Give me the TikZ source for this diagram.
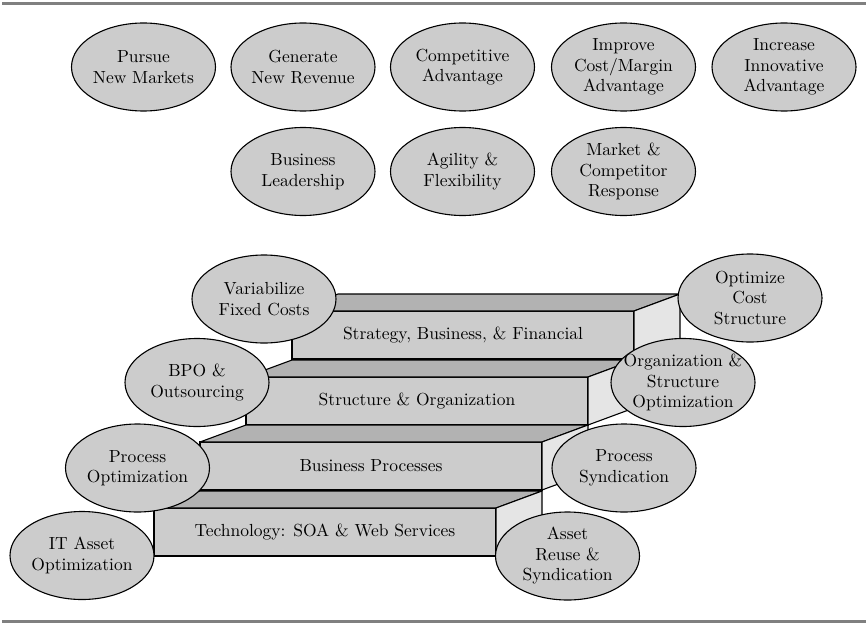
\documentclass[tikz,border=0pt]{standalone}
\usepackage{fontspec}
\setmainfont{lmroman10-regular.otf}
\usetikzlibrary{shapes.geometric,calc}
\newcommand{\stairstep}[3]{%
  \node[front] (#1) at (#2) {#3};
  \draw[topface] (#1.north west) -- (#1.north east) -- ++(46,-17) -- ($(#1.north west)+(46,-17)$) -- cycle;
  \draw[sideface] (#1.north east) -- ++(46,-17) -- ++(0,48) -- (#1.south east) -- cycle;
}
\begin{document}
\begin{tikzpicture}[x=1pt,y=-1pt,
  bub/.style={ellipse,draw=black,line width=1.1pt,fill=black!20,minimum width=144pt,minimum height=88pt,inner sep=0pt},
  txt/.style={align=center,font=\fontsize{17.5}{20.5}\selectfont,inner sep=0pt},
  front/.style={draw=black,line width=1.1pt,fill=black!20,minimum width=342pt,minimum height=48pt,inner sep=0pt,outer sep=0pt,font=\fontsize{17.5}{20.5}\selectfont},
  topface/.style={draw=black,line width=1.1pt,fill=black!30,line join=round},
  sideface/.style={draw=black,line width=1.1pt,fill=black!10,line join=round},
  rulebar/.style={draw=black!50,line width=3.3pt}]
\useasboundingbox (0,0) rectangle (866,623);
% rules
\coordinate (tl) at (2,3.3); \coordinate (tr) at (866,3.3);
\coordinate (bl) at (2,621.6); \coordinate (br) at (866,621.6);
\draw[rulebar] (tl) -- (tr);
\draw[rulebar] (bl) -- (br);
% top goals
\node[bub] (pnm) at (143.5,67) {}; \node[txt] at (pnm) {Pursue\\New Markets};
\node[bub] (gnr) at (303,67) {}; \node[txt] at (gnr) {Generate\\New Revenue};
\node[bub] (cad) at (462.5,67) {}; \node[txt] at (cad) {Competitive\\Advantage};
\node[bub] (icm) at (623.5,67) {}; \node[txt] at (icm) {Improve\\Cost/Margin\\Advantage};
\node[bub] (iia) at (784,67) {}; \node[txt] at (iia) {Increase\\Innovative\\Advantage};
\node[bub] (bld) at (303,171.5) {}; \node[txt] at (bld) {Business\\Leadership};
\node[bub] (agf) at (462.5,171.5) {}; \node[txt] at (agf) {Agility \&\\Flexibility};
\node[bub] (mcr) at (623.5,171.5) {}; \node[txt] at (mcr) {Market \&\\Competitor\\Response};
% staircase
\stairstep{strat}{463,335}{Strategy, Business, \& Financial}
\stairstep{struc}{417,401}{Structure \& Organization}
\stairstep{bproc}{371,466}{Business Processes}
\stairstep{tech}{325,532}{Technology: SOA \& Web Services}
% side bubbles
\node[bub] (vfc) at (264,299) {}; \node[txt] at (vfc) {Variabilize\\Fixed Costs};
\node[bub] (ocs) at (750,298) {}; \node[txt] at (ocs) {Optimize\\Cost\\Structure};
\node[bub] (bpo) at (197,382.5) {}; \node[txt] at (bpo) {BPO \&\\Outsourcing};
\node[bub] (oso) at (683,382.5) {}; \node[txt] at (oso) {Organization \&\\Structure\\Optimization};
\node[bub] (pop) at (137.5,468) {}; \node[txt] at (pop) {Process\\Optimization};
\node[bub] (psy) at (624,468) {}; \node[txt] at (psy) {Process\\Syndication};
\node[bub] (ita) at (82,555.5) {}; \node[txt] at (ita) {IT Asset\\Optimization};
\node[bub] (ars) at (567.5,556) {}; \node[txt] at (ars) {Asset\\Reuse \&\\Syndication};
\end{tikzpicture}
\end{document}
